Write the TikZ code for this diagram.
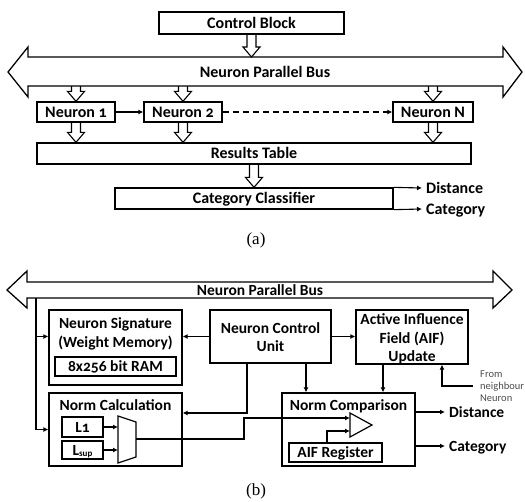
\documentclass[tikz,border=0pt]{standalone}
\usepackage{fontspec}
\setmainfont{Carlito}[Numbers=OldStyle]
\newfontfamily\capfont{Liberation Serif}
\usetikzlibrary{arrows.meta,calc}
\newcommand{\blockarr}[2]{%
  \draw[line width=1.1pt, line join=miter] let \p1=(#1), \p2=(#2) in
  (\x1-4.5pt,\y1) -- (\x1-4.5pt,\y2+10pt) -- (\x1-8.5pt,\y2+10pt) -- (\x1,\y2)
  -- (\x1+8.5pt,\y2+10pt) -- (\x1+4.5pt,\y2+10pt) -- (\x1+4.5pt,\y1);}
\begin{document}
\begin{tikzpicture}[x=1pt,y=-1pt,
  box/.style={draw, line width=1.3pt, inner sep=0pt, fill=white,
    font=\fontsize{16}{18}\selectfont\bfseries, text height=10.3pt, text depth=0pt},
  bbox/.style={box, font=\fontsize{15.5}{18}\selectfont\bfseries, text height=10pt},
  lbl/.style={inner sep=0pt, font=\fontsize{16}{18}\selectfont\bfseries, text height=10.3pt, text depth=0pt},
  blbl/.style={lbl, font=\fontsize{15.5}{18}\selectfont\bfseries, text height=10pt},
  arr/.style={-{Latex[length=5pt,width=5pt]}, line width=1.1pt},
  small/.style={inner sep=0pt, font=\fontsize{10.5}{12}\selectfont, text=black!70, align=left},
  captxt/.style={inner sep=0pt, font=\capfont\fontsize{17}{19}\selectfont}]
\useasboundingbox (0,0) rectangle (525,501);

%% ---------------- (a) ----------------
\node[box, minimum width=185, minimum height=22] (cb) at (251.5,23) {Control Block};
\draw[line width=1.3pt, line join=miter] (8,72) -- (28,47) -- (28,57) -- (503,57) -- (503,47) -- (522,72)
  -- (503,97) -- (503,86) -- (28,86) -- (28,97) -- cycle;
\coordinate (busAt) at (265,57);
\coordinate (busAb) at (265,86);
\node[lbl] (busAlbl) at (265,72) {Neuron Parallel Bus};

\node[box, minimum width=78, minimum height=20] (n1) at (76,112) {Neuron 1};
\node[box, minimum width=78, minimum height=20] (n2) at (183,112) {Neuron 2};
\node[box, minimum width=80, minimum height=20] (nN) at (433,112) {Neuron N};
\node[box, minimum width=434, minimum height=21] (rt) at (254,153.5) {Results Table};
\node[box, minimum width=278, minimum height=21] (cc) at (254,198.5) {Category Classifier};

\blockarr{cb.south}{cb.south |- busAt}
\blockarr{n1.north |- busAb}{n1.north}
\blockarr{n2.north |- busAb}{n2.north}
\blockarr{nN.north |- busAb}{nN.north}
\blockarr{n1.south}{n1.south |- rt.north}
\blockarr{n2.south}{n2.south |- rt.north}
\blockarr{nN.south}{nN.south |- rt.north}
\blockarr{rt.south}{cc.north}

\draw[arr] (n1) -- (n2);
\draw[arr, dash pattern=on 6pt off 4pt] (n2) -- (nN);

\node[lbl, anchor=west] (dA) at (426,188) {Distance};
\node[lbl, anchor=west] (cA) at (426,209) {Category};
\draw[arr] (cc.north east) -- ([xshift=-4pt]dA.west);
\draw[arr] (cc.south east) -- ([xshift=-4pt]cA.west);

\node[captxt] (capa) at (256,240) {(a)};

%% ---------------- (b) ----------------
\draw[line width=1.3pt, line join=miter] (7,290) -- (27,271) -- (27,282) -- (493,282) -- (493,271) -- (512,290)
  -- (493,308) -- (493,298) -- (27,298) -- (27,308) -- cycle;
\node[blbl] (busBlbl) at (260,290) {Neuron Parallel Bus};
\coordinate (bl) at (36,298);

\node[bbox, minimum width=133, minimum height=75] (ns) at (115.5,347.5) {};
\node[blbl] (ns1) at (115.5,323) {Neuron Signature};
\node[blbl] (ns2) at (115.5,342) {(Weight Memory)};
\node[bbox, minimum width=121, minimum height=19] (ram) at (115.5,366.5) {8x256 bit RAM};

\node[bbox, minimum width=121, minimum height=53] (ncu) at (270.5,336.5) {};
\node[blbl] (ncu1) at (270.5,328) {Neuron Control};
\node[blbl] (ncu2) at (270.5,346) {Unit};

\node[bbox, minimum width=112, minimum height=54] (aif) at (412,337) {};
\node[blbl] (aif1) at (412,319) {Active Influence};
\node[blbl] (aif2) at (412,338) {Field (AIF)};
\node[blbl] (aif3) at (412,356) {Update};

\node[bbox, minimum width=133, minimum height=73] (nc) at (115.5,429.5) {};
\node[blbl] (nct) at (115.5,405) {Norm Calculation};
\node[bbox, minimum width=41, minimum height=20] (l1) at (82.5,427) {L1};
\node[bbox, minimum width=41, minimum height=18] (lsup) at (82.5,450) {L\raisebox{-1.5pt}{\fontsize{9}{10}\selectfont sup}};
\draw[line width=1.2pt, fill=white, line join=miter] (118,416) -- (136,422) -- (136,457) -- (118,463) -- cycle;
\coordinate (muxL) at (118,0);
\coordinate (muxo) at (136,439);

\node[bbox, minimum width=133, minimum height=73] (ncmp) at (348.5,429.5) {};
\node[blbl] (ncmpt) at (348.5,405) {Norm Comparison};
\draw[line width=1.2pt, line join=miter] (350,413) -- (372,425) -- (350,437) -- cycle;
\coordinate (triL) at (350,0);
\node[bbox, minimum width=93, minimum height=19] (reg) at (335.5,452.5) {AIF Register};

% bus to blocks
\draw[line width=1.1pt] (bl) -- (bl |- nc.west);
\draw[arr] (bl |- ncu.west) -- (ncu.west -| ns.west);
\draw[arr] (bl |- nc.west) -- (nc.west);
% control unit
\draw[arr] (ncu.west) -- (ncu.west -| ns.east);
\draw[arr] (ncu.east) -- (ncu.east -| aif.west);
\coordinate (k1) at (247,413);
\draw[arr] (ncu.south -| k1) |- (nc.east |- k1);
\coordinate (k2) at (306,0);
\draw[arr] (ncu.south -| k2) -- (ncmp.north -| k2);
\coordinate (k3) at (383,0);
\draw[arr] (aif.south -| k3) -- (ncmp.north -| k3);
% from neighbour
\coordinate (fn) at (473,386);
\coordinate (k4) at (442,0);
\draw[arr] (fn) -| (aif.south -| k4);
\node[small, anchor=west] (fnt) at (480,386) {From\\neighbour\\Neuron};
% mux
\draw[arr] (l1.east) -- (l1.east -| muxL);
\draw[arr] (lsup.east) -- (lsup.east -| muxL);
\coordinate (k5) at (244,418);
\draw[arr] (muxo) -| (k5) -- (k5 -| triL);
\coordinate (k6) at (327,431);
\draw[arr] (reg.north -| k6) |- (k6 -| triL);
% outputs
\coordinate (k7) at (0,412);
\coordinate (k8) at (0,446);
\node[blbl, anchor=west] (dB) at (449,412) {Distance};
\node[blbl, anchor=west] (cB) at (449,446) {Category};
\draw[arr] (ncmp.east |- k7) -- ([xshift=-4pt]dB.west);
\draw[arr] (ncmp.east |- k8) -- ([xshift=-4pt]cB.west);

\node[captxt] (capb) at (256,491) {(b)};
\end{tikzpicture}
\end{document}
